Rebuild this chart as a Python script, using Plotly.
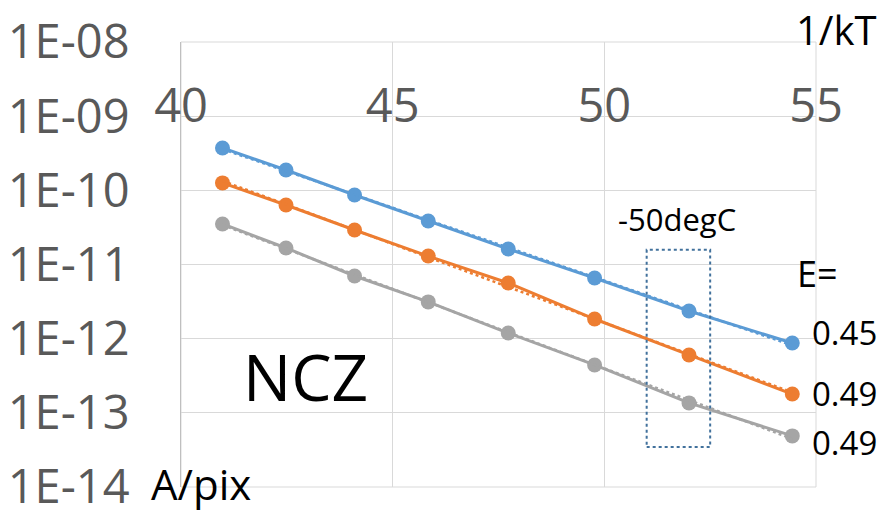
import numpy as np
import plotly.graph_objects as go

# ---- data ----
inv_kT = [40.98, 42.48, 44.10, 45.84, 47.73, 49.77, 52.00, 54.44]
blue_vals = [3.73e-10, 1.88e-10, 8.65e-11, 3.86e-11, 1.62e-11, 6.58e-12, 2.36e-12, 8.75e-13]
orange_vals = [1.26e-10, 6.34e-11, 2.92e-11, 1.30e-11, 5.63e-12, 1.84e-12, 6.03e-13, 1.79e-13]
gray_vals = [3.52e-11, 1.67e-11, 7.0e-12, 3.13e-12, 1.19e-12, 4.42e-13, 1.36e-13, 4.88e-14]
e_labels = ["0.45", "0.49", "0.49"]
y_tickvals = [1e-14, 1e-13, 1e-12, 1e-11, 1e-10, 1e-9, 1e-8]
y_ticktext = ["1E-14", "1E-13", "1E-12", "1E-11", "1E-10", "1E-09", "1E-08"]
x_tickvals = [40, 45, 50, 55]

W, H = 885, 512
L, R, T, B = 181, 69, 42, 25
PW, PH = W - L - R, H - T - B

def px(x):
    return (x - L) / PW

def py(y):
    return (H - B - y) / PH

series = [
    (blue_vals, "#5B9BD5"),
    (orange_vals, "#ED7D31"),
    (gray_vals, "#A5A5A5"),
]

fig = go.Figure()
for vals, col in series:
    fig.add_trace(go.Scatter(
        x=inv_kT, y=vals, mode="lines+markers",
        line=dict(color=col, width=3),
        marker=dict(color=col, size=15),
        showlegend=False,
    ))
    # exponential trendline (dotted)
    k, b0 = np.polyfit(inv_kT, np.log10(vals), 1)
    xs = [inv_kT[0], inv_kT[-1]]
    fig.add_trace(go.Scatter(
        x=xs, y=[10 ** (k * v + b0) for v in xs], mode="lines",
        line=dict(color=col, width=2.5, dash="dot"),
        showlegend=False, hoverinfo="skip",
    ))

tick_font = dict(family="Open Sans", size=47, color="#595959")

fig.update_layout(
    width=W, height=H,
    margin=dict(l=L, r=R, t=T, b=B),
    paper_bgcolor="white", plot_bgcolor="white",
    xaxis=dict(
        range=[40, 55], tickvals=x_tickvals, side="top", anchor="free",
        position=0.80, showline=False, ticks="", zeroline=False,
        showgrid=True, gridcolor="#d9d9d9", gridwidth=1,
        tickfont=tick_font, ticklabeloverflow="allow", automargin=False,
    ),
    yaxis=dict(
        type="log", range=[-14.0005, -7.9995], tickvals=y_tickvals, ticktext=y_ticktext,
        showline=True, linecolor="#bfbfbf", linewidth=1,
        showgrid=True, gridcolor="#d9d9d9", gridwidth=1,
        ticks="", ticklabelstandoff=41, tickfont=tick_font, zeroline=False,
        ticklabeloverflow="allow", automargin=False,
    ),
)

# plot border lines (top/right gridlines look)
fig.add_shape(type="rect", xref="paper", yref="paper", x0=0, x1=1, y0=0, y1=1,
              line=dict(color="#d9d9d9", width=1), layer="below")

# dotted box around -50degC
fig.add_shape(type="rect", xref="x", yref="y domain",
              x0=51.0, x1=52.5, y0=0.09, y1=0.533,
              line=dict(color="#41719C", width=2, dash="dot"))

def ann(text, x, y, size, xanchor="center"):
    fig.add_annotation(text=text, x=px(x), y=py(y), xref="paper", yref="paper",
                       showarrow=False, xanchor=xanchor, yanchor="middle",
                       font=dict(family="Open Sans", size=size, color="black"))

ann("1/kT", 836, 30, 40)
ann("A/pix", 201, 483, 42)
ann("NCZ", 305, 376, 64)
ann("-50degC", 677, 219, 31)
ann("E=", 817, 273, 36)
for txt, yy in zip(e_labels, [332, 393, 442]):
    ann(txt, 844, yy, 33)

fig.write_html("out.html")
